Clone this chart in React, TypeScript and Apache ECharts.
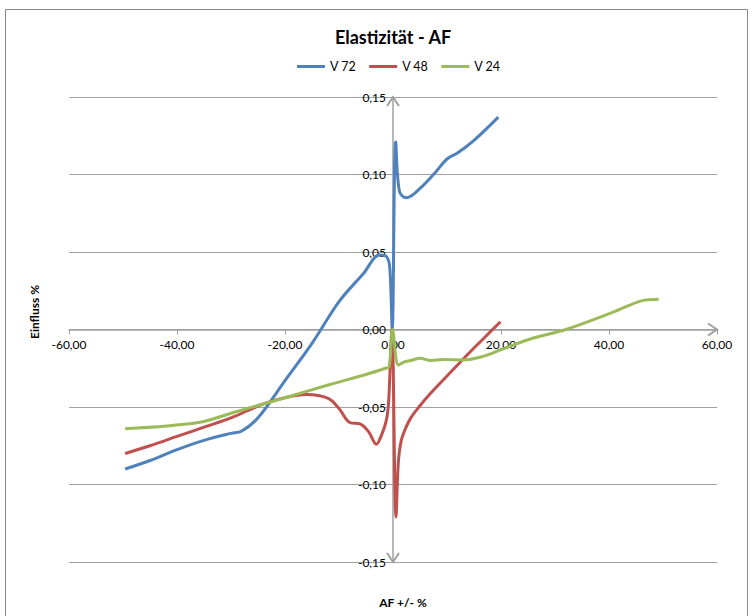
import React, { useEffect, useRef } from "react";
import * as echarts from "echarts";

const chartTitle = "Elastizität - AF";
const xAxisName = "AF +/- %";
const yAxisName = "Einfluss %";
const seriesNames = ["V 72", "V 48", "V 24"];
const seriesColors = ["#4F81BD", "#C0504D", "#9BBB59"];

const xMin = -60;
const xMax = 60;
const xStep = 20;
const yMin = -0.15;
const yMax = 0.15;
const yStep = 0.05;

const xV72 = [-49.6, -45, -40, -35, -30, -28, -25, -20, -15, -10, -5.5, -2.5, -1.2, -0.6, -0.15, 0.5, 1.2, 2.5, 5, 8, 10, 12, 15, 19.5];
const yV72 = [-0.09, -0.0845, -0.0775, -0.0715, -0.067, -0.0655, -0.057, -0.033, -0.009, 0.018, 0.036, 0.048, 0.047, 0.04, 0.0, 0.121, 0.089, 0.085, 0.091, 0.102, 0.11, 0.114, 0.122, 0.137];

const xV48 = [-49.6, -45, -40, -35, -30, -24, -20, -16, -12, -10, -8, -6, -4.5, -3.1, -2, -1.2, -0.8, -0.2, 0.55, 1.0, 1.5, 2.3, 3.3, 4.8, 7, 10, 14.4, 17, 19.9];
const yV48 = [-0.08, -0.075, -0.069, -0.063, -0.057, -0.048, -0.044, -0.042, -0.0445, -0.051, -0.06, -0.061, -0.066, -0.074, -0.067, -0.058, -0.046, 0.0, -0.121, -0.085, -0.072, -0.064, -0.057, -0.05, -0.041, -0.03, -0.014, -0.005, 0.005];

const xV24 = [-49.6, -36, -30, -20, -11.7, -5, -1.4, -0.7, -0.1, 1.0, 2.0, 3.3, 5, 7, 9.4, 13, 17, 20, 26, 32, 41, 46, 49.2];
const yV24 = [-0.064, -0.06, -0.054, -0.044, -0.0355, -0.029, -0.025, -0.024, 0.0, -0.023, -0.021, -0.02, -0.0185, -0.02, -0.0194, -0.0196, -0.017, -0.013, -0.0055, 0.0, 0.0115, 0.0185, 0.0195];

const seriesX = [xV72, xV48, xV24];
const seriesY = [yV72, yV48, yV24];

const fmt = (v: number) => {
  const s = Math.abs(v) < 1e-9 ? "0.00" : v.toFixed(2);
  return s.replace(".", ",");
};

const FONT = "Lato, 'Open Sans', sans-serif";
const AXIS_COLOR = "#a0a0a0";

const GRID = { left: 69, right: 35, top: 97, bottom: 54 };
const W = 752;
const H = 616;

export default function App() {
  const ref = useRef<HTMLDivElement>(null);

  useEffect(() => {
    if (!ref.current) return;
    const chart = echarts.init(ref.current, undefined, { renderer: "svg" });

    const series = seriesNames.map((name, i) => ({
      name,
      type: "line",
      smooth: 0.35,
      showSymbol: false,
      symbol: "none",
      color: seriesColors[i],
      lineStyle: { width: 3, color: seriesColors[i] },
      data: seriesX[i].map((x, k) => [x, seriesY[i][k]]),
    }));

    const gridW = W - GRID.left - GRID.right;
    const gridH = H - GRID.top - GRID.bottom;
    // axes cross at the origin: shift each axis to the zero of the other one
    const xZeroFrac = (0 - xMin) / (xMax - xMin);
    const yZeroFrac = (0 - yMin) / (yMax - yMin);

    chart.setOption({
      animation: false,
      backgroundColor: "#ffffff",
      textStyle: { fontFamily: FONT },
      grid: { ...GRID, containLabel: false },
      legend: {
        data: seriesNames,
        left: 292,
        top: 55,
        icon: "rect",
        itemWidth: 28,
        itemHeight: 3,
        itemGap: 13,
        textStyle: { fontSize: 12.5, color: "#000", fontFamily: FONT },
      },
      xAxis: {
        type: "value",
        min: xMin,
        max: xMax,
        interval: xStep,
        offset: -gridH * yZeroFrac,
        axisLine: { onZero: false, lineStyle: { color: AXIS_COLOR, width: 1.5 } },
        axisTick: { show: true, length: 5, lineStyle: { color: AXIS_COLOR, width: 1 } },
        axisLabel: { formatter: fmt, margin: 9, fontSize: 12, color: "#000", fontFamily: FONT },
        splitLine: { show: false },
      },
      yAxis: {
        type: "value",
        min: yMin,
        max: yMax,
        interval: yStep,
        offset: -gridW * xZeroFrac,
        axisLine: { onZero: false, lineStyle: { color: AXIS_COLOR, width: 1.5 } },
        axisTick: { show: false },
        axisLabel: { formatter: fmt, margin: 7, fontSize: 12, color: "#000", fontFamily: FONT },
        splitLine: { show: true, lineStyle: { color: AXIS_COLOR, width: 1 } },
      },
      series,
    });

    const pR = chart.convertToPixel({ xAxisIndex: 0, yAxisIndex: 0 }, [xMax, 0]) as number[];
    const pT = chart.convertToPixel({ xAxisIndex: 0, yAxisIndex: 0 }, [0, yMax]) as number[];
    const pB = chart.convertToPixel({ xAxisIndex: 0, yAxisIndex: 0 }, [0, yMin]) as number[];
    const arrowStyle = { stroke: AXIS_COLOR, lineWidth: 2, fill: null };

    chart.setOption({
      graphic: [
        {
          type: "rect",
          shape: { x: 5.5, y: 9.5, width: 742, height: 640 },
          style: { fill: null, stroke: "#8a8a8a", lineWidth: 1 },
          silent: true,
        },
        {
          type: "text",
          x: 393,
          y: 37,
          style: {
            text: chartTitle,
            fontSize: 18,
            fontWeight: "bold",
            fontFamily: FONT,
            fill: "#000",
            textAlign: "center",
            textVerticalAlign: "middle",
          },
        },
        {
          type: "text",
          x: 403,
          y: 602,
          style: {
            text: xAxisName,
            fontSize: 12,
            fontWeight: "bold",
            fontFamily: FONT,
            fill: "#000",
            textAlign: "center",
            textVerticalAlign: "middle",
          },
        },
        {
          type: "text",
          x: 34,
          y: 312,
          rotation: Math.PI / 2,
          style: {
            text: yAxisName,
            fontSize: 12,
            fontWeight: "bold",
            fontFamily: FONT,
            fill: "#000",
            textAlign: "center",
            textVerticalAlign: "middle",
          },
        },
        {
          type: "polyline",
          shape: { points: [[pR[0] - 9, pR[1] - 6], [pR[0], pR[1]], [pR[0] - 9, pR[1] + 6]] },
          style: arrowStyle,
          silent: true,
        },
        {
          type: "polyline",
          shape: { points: [[pT[0] - 6, pT[1] + 9], [pT[0], pT[1]], [pT[0] + 6, pT[1] + 9]] },
          style: arrowStyle,
          silent: true,
        },
        {
          type: "polyline",
          shape: { points: [[pB[0] - 6, pB[1] - 9], [pB[0], pB[1]], [pB[0] + 6, pB[1] - 9]] },
          style: arrowStyle,
          silent: true,
        },
      ],
    });

    return () => chart.dispose();
  }, []);

  return (
    <div
      ref={ref}
      style={{ position: "absolute", left: 0, top: 0, width: W, height: H }}
    />
  );
}
